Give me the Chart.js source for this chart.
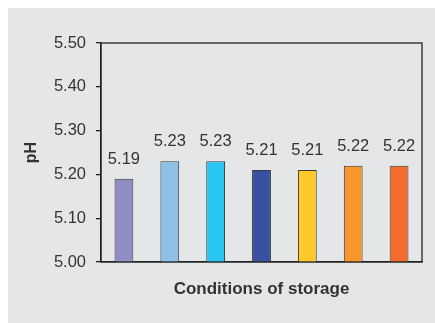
<!DOCTYPE html>
<html>
<head>
<meta charset="utf-8">
<script src="https://cdn.jsdelivr.net/npm/chart.js@4"></script>
<style>
  body { margin: 0; background: #ffffff; }
  #panel { position: absolute; left: 8px; top: 8px; width: 427px; height: 315px; background: #e5e6e8; }
</style>
</head>
<body>
<div id="panel"><canvas id="phChart" width="427" height="315"></canvas></div>
<script>
  const conditions = ['Condition 1', 'Condition 2', 'Condition 3', 'Condition 4', 'Condition 5', 'Condition 6', 'Condition 7'];
  const phValues = [5.19, 5.23, 5.23, 5.21, 5.21, 5.22, 5.22];
  const barColors = ['#8e8ec4', '#8fc0e6', '#29c6f4', '#3951a3', '#ffc92c', '#f7962b', '#f26c2d'];
  const yTicks = [5.00, 5.10, 5.20, 5.30, 5.40, 5.50];

  const textColor = '#333333';
  const fontFamily = '"Liberation Sans", Arial, sans-serif';

  // numbers above bars + box around plot area
  const valueLabels = {
    id: 'valueLabels',
    afterDatasetsDraw(chart) {
      const ctx = chart.ctx;
      const area = chart.chartArea;
      ctx.save();
      ctx.strokeStyle = '#222222';
      ctx.lineWidth = 1.3;
      ctx.strokeRect(area.left, area.top, area.right - area.left, area.bottom - area.top);
      ctx.fillStyle = textColor;
      ctx.font = '16.5px ' + fontFamily;
      ctx.textAlign = 'center';
      ctx.textBaseline = 'alphabetic';
      chart.getDatasetMeta(0).data.forEach((bar, i) => {
        ctx.fillText(phValues[i].toFixed(2), bar.x, bar.y - 15);
      });
      ctx.restore();
    }
  };

  new Chart(document.getElementById('phChart').getContext('2d'), {
    type: 'bar',
    data: {
      labels: conditions,
      datasets: [{
        data: phValues,
        backgroundColor: barColors,
        borderColor: '#3a3a3a',
        borderWidth: 1,
        categoryPercentage: 1,
        barPercentage: 0.41,
      }]
    },
    options: {
      responsive: false,
      animation: false,
      layout: { padding: { top: 35, right: 13, left: 0, bottom: 0 } },
      plugins: { legend: { display: false }, tooltip: { enabled: false } },
      scales: {
        x: {
          ticks: { display: false },
          grid: { display: false },
          border: { display: true, color: '#222222', width: 1.3 },
          title: {
            display: true,
            text: 'Conditions of storage',
            color: textColor,
            font: { family: fontFamily, size: 17, weight: 'bold' },
            padding: { top: 0, bottom: 23 },
          },
          afterFit(scale) { scale.height = 61; },
        },
        y: {
          min: 5.0,
          max: 5.5,
          afterBuildTicks(scale) { scale.ticks = yTicks.map(v => ({ value: v })); },
          ticks: {
            color: textColor,
            font: { family: fontFamily, size: 16.5 },
            padding: 10,
            callback: v => Number(v).toFixed(2),
          },
          grid: { drawOnChartArea: false, tickLength: 5, color: '#222222', lineWidth: 1.3 },
          border: { display: true, color: '#222222', width: 1.3 },
          title: {
            display: true,
            text: 'pH',
            color: textColor,
            font: { family: fontFamily, size: 16, weight: 'bold' },
            padding: { top: 14, bottom: 0 },
          },
          afterFit(scale) { scale.width = 93; },
        }
      }
    },
    plugins: [valueLabels]
  });
</script>
</body>
</html>
